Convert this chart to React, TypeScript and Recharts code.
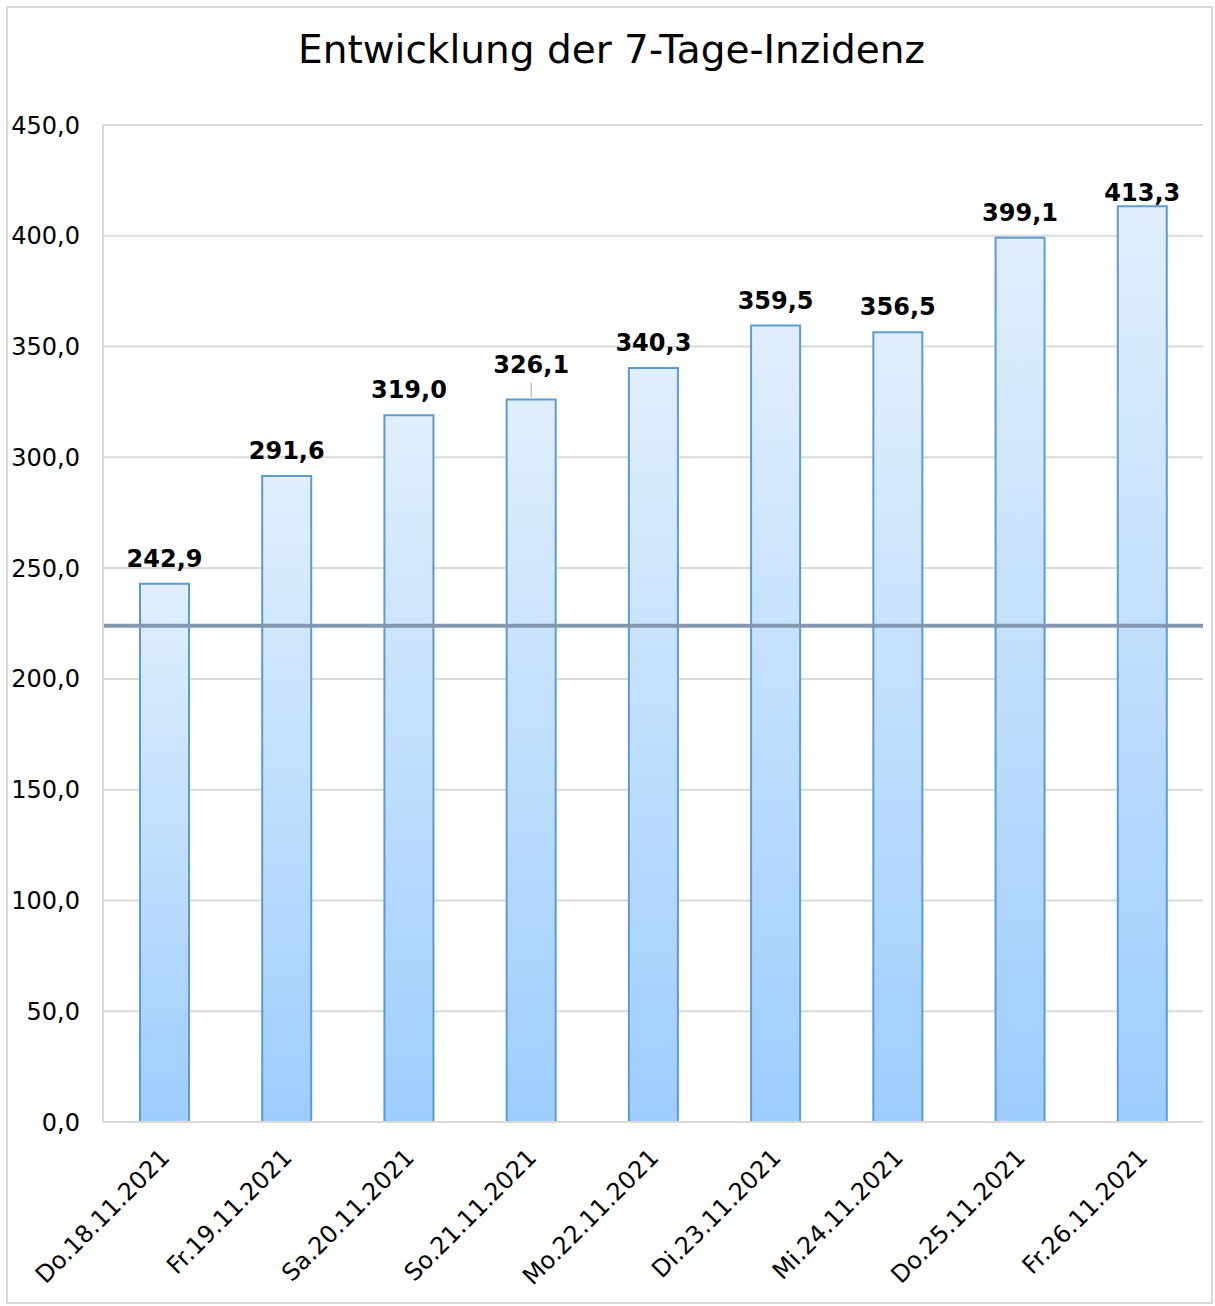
import React from "react";
import { BarChart, Bar, XAxis, YAxis, CartesianGrid, ReferenceLine, LabelList } from "recharts";

const categories = [
  "Do.18.11.2021",
  "Fr.19.11.2021",
  "Sa.20.11.2021",
  "So.21.11.2021",
  "Mo.22.11.2021",
  "Di.23.11.2021",
  "Mi.24.11.2021",
  "Do.25.11.2021",
  "Fr.26.11.2021",
];
const incidence = [242.9, 291.6, 319.0, 326.1, 340.3, 359.5, 356.5, 399.1, 413.3];
const yTicks = [0, 50, 100, 150, 200, 250, 300, 350, 400, 450];
const thresholdValue = 224;
const title = "Entwicklung der 7-Tage-Inzidenz";

const data = categories.map((c, i) => ({ name: c, value: incidence[i] }));

const FONT = "'DejaVu Sans', Verdana, sans-serif";
const fmt = (v: number) => v.toFixed(1).replace(".", ",");

const XTick = (props: any) => {
  const { x, y, payload } = props;
  const ax = x + 7;
  const ay = y + 37;
  return (
    <text
      x={ax}
      y={ay}
      textAnchor="end"
      fontFamily={FONT}
      fontSize={24}
      fill="#000"
      transform={`rotate(-45, ${ax}, ${ay})`}
    >
      {payload.value}
    </text>
  );
};

const ValueLabel = (props: any) => {
  const { x, y, width, value, index } = props;
  const cx = x + width / 2;
  let base = y - 17;
  let leader = null;
  if (index === 3) {
    base = y - 27;
    leader = <line x1={cx} x2={cx} y1={y - 17} y2={y - 2} stroke="#a6a6a6" strokeWidth={1} />;
  }
  if (index === 8) base = y - 5;
  return (
    <g>
      {leader}
      <text x={cx} y={base} textAnchor="middle" fontFamily={FONT} fontSize={24} fontWeight="bold" fill="#000">
        {fmt(value)}
      </text>
    </g>
  );
};

export default function App() {
  return (
    <div style={{ position: "absolute", left: 0, top: 0, width: 1215, height: 1306, background: "#fff" }}>
      <div
        style={{
          position: "absolute",
          left: 6,
          top: 6,
          width: 1203,
          height: 1294,
          border: "2px solid #d9d9d9",
        }}
      />
      <div
        style={{
          position: "absolute",
          left: 4,
          top: 30,
          width: 1215,
          textAlign: "center",
          fontFamily: FONT,
          fontSize: 39,
          lineHeight: 1,
          color: "#000",
        }}
      >
        {title}
      </div>
      <div style={{ position: "absolute", left: 0, top: 0 }}>
        <BarChart
          width={1215}
          height={1306}
          data={data}
          margin={{ top: 125, right: 12, bottom: 0, left: 0 }}
          barSize={49}
        >
          <defs>
            <linearGradient id="barGrad" x1="0" y1="0" x2="0" y2="1">
              <stop offset="0%" stopColor="#e1effd" />
              <stop offset="100%" stopColor="#9dcdfd" />
            </linearGradient>
          </defs>
          <CartesianGrid vertical={false} stroke="#d9d9d9" strokeWidth={2} />
          <XAxis
            dataKey="name"
            height={184}
            interval={0}
            tickLine={false}
            tickSize={0}
            tickMargin={0}
            axisLine={{ stroke: "#d9d9d9", strokeWidth: 2 }}
            tick={<XTick />}
          />
          <YAxis
            width={103}
            domain={[0, 450]}
            ticks={yTicks}
            interval={0}
            tickLine={false}
            tickSize={0}
            tickMargin={23}
            axisLine={{ stroke: "#d9d9d9", strokeWidth: 2 }}
            tickFormatter={fmt}
            tick={{ fontFamily: FONT, fontSize: 24, fill: "#000" }}
          />
          <Bar dataKey="value" fill="url(#barGrad)" stroke="#5b9bd5" strokeWidth={2} isAnimationActive={false}>
            <LabelList dataKey="value" content={<ValueLabel />} />
          </Bar>
          <ReferenceLine y={thresholdValue} stroke="#8497b0" strokeWidth={4} ifOverflow="visible" />
        </BarChart>
      </div>
    </div>
  );
}
